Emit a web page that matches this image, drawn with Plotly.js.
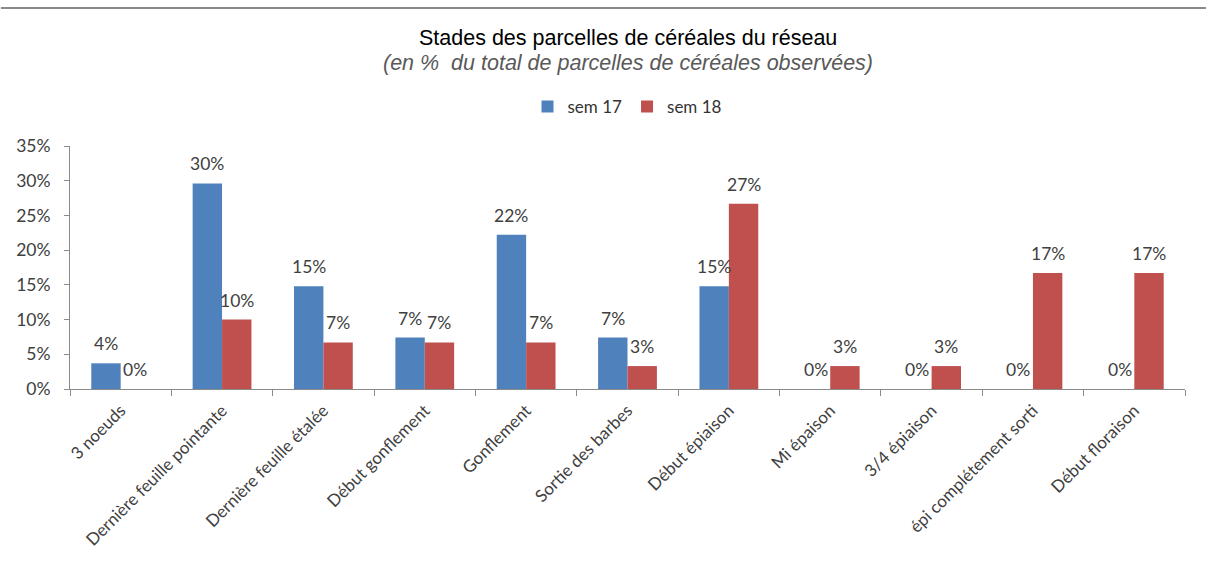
<!DOCTYPE html>
<html>
<head>
<meta charset="utf-8">
<script src="https://cdn.plot.ly/plotly-3.0.1.min.js"></script>
<style>html,body{margin:0;padding:0;background:#fff;}#chart{width:1206px;height:566px;}</style>
</head>
<body>
<div id="chart"></div>
<script>
var categories = ["3 noeuds", "Dernière feuille pointante", "Dernière feuille étalée", "Début gonflement", "Gonflement", "Sortie des barbes", "Début épiaison", "Mi épaison", "3/4 épiaison", "épi complétement sorti", "Début floraison"];
var sem17 = [0.037, 0.296, 0.148, 0.074, 0.222, 0.074, 0.148, 0, 0, 0, 0];
var sem18 = [0, 0.100, 0.067, 0.067, 0.067, 0.033, 0.267, 0.033, 0.033, 0.167, 0.167];
var yTicks = [0, 0.05, 0.10, 0.15, 0.20, 0.25, 0.30, 0.35];

var fam = "Lato, Liberation Sans, Arial, sans-serif";
var labelFont = {family: fam, size: 17.5, color: "#404040"};
var tickFont = {family: fam, size: 17, color: "#404040"};
var yTickFont = {family: fam, size: 17.5, color: "#404040"};

var traces = [
  {type: "bar", name: "sem 17", x: categories, y: sem17, marker: {color: "#4F81BD", line: {width: 0}}, hoverinfo: "skip"},
  {type: "bar", name: "sem 18", x: categories, y: sem18, marker: {color: "#C0504D", line: {width: 0}}, hoverinfo: "skip"}
];

var W = 1206, H = 566;
var mL = 70, mR = 21, plotTop = 146, plotBottom = 177;
var plotH = H - plotTop - plotBottom;
var plotW = W - mL - mR;
var bargap = 0.42;
var halfBar = (plotW / categories.length) * (1 - bargap) / 4;

var annotations = [
  {text: "Stades des parcelles de céréales du réseau", xref: "paper", yref: "paper", x: 0.5, y: 1, yshift: plotTop - 38,
   showarrow: false, xanchor: "center", yanchor: "middle",
   font: {family: "Liberation Sans, Arial, sans-serif", size: 21.5, color: "#000"}},
  {text: "<i>(en %  du total de parcelles de céréales observées)</i>", xref: "paper", yref: "paper", x: 0.5, y: 1, yshift: plotTop - 63,
   showarrow: false, xanchor: "center", yanchor: "middle",
   font: {family: "Liberation Sans, Arial, sans-serif", size: 21.5, color: "#595959"}}
];
function addLabels(vals, side) {
  vals.forEach(function (v, i) {
    annotations.push({
      x: categories[i], y: v, xref: "x", yref: "y", text: Math.round(v * 100) + "%",
      showarrow: false, xanchor: "center", yanchor: "bottom", xshift: side * halfBar, yshift: 7,
      font: labelFont
    });
  });
}
addLabels(sem17, -1);
addLabels(sem18, 1);

var layout = {
  width: W, height: H,
  margin: {l: mL, r: mR, t: plotTop, b: plotBottom},
  paper_bgcolor: "#fff", plot_bgcolor: "#fff",
  barmode: "group", bargap: bargap, bargroupgap: 0,
  showlegend: true,
  legend: {orientation: "h", x: 0.5, xanchor: "center", y: 1 + (plotTop - 107) / plotH, yanchor: "middle",
           itemwidth: 30, tracegroupgap: 0,
           font: {family: fam, size: 17, color: "#333"}},
  annotations: annotations,
  shapes: [
    {type: "line", xref: "paper", yref: "paper", x0: -0.062, x1: 1.02,
     y0: 1 + (plotTop - 8) / plotH, y1: 1 + (plotTop - 8) / plotH,
     line: {color: "#8a8a8a", width: 2}}
  ],
  xaxis: {
    type: "category", tickangle: -45, showgrid: false, zeroline: false,
    showline: true, linecolor: "#8a8a8a", linewidth: 1,
    ticks: "outside", ticklen: 6, tickcolor: "#8a8a8a", tickson: "boundaries",
    ticklabelstandoff: 4,
    tickfont: tickFont, automargin: false
  },
  yaxis: {
    range: [0, 0.35], tickvals: yTicks, tickformat: ".0%", showgrid: false, zeroline: false,
    showline: true, linecolor: "#8a8a8a", linewidth: 1,
    ticks: "outside", ticklen: 5, tickcolor: "#8a8a8a", ticklabelstandoff: 10,
    tickfont: yTickFont, automargin: false
  }
};

Plotly.newPlot("chart", traces, layout, {displayModeBar: false, staticPlot: true});
</script>
</body>
</html>
